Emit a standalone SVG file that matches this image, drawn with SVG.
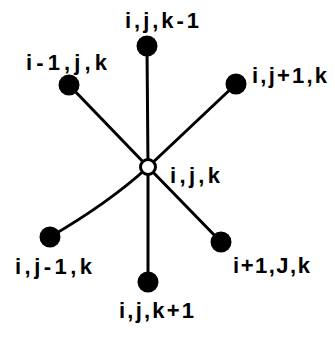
<svg xmlns="http://www.w3.org/2000/svg" width="335" height="339" viewBox="0 0 335 339">
<style>
.e{stroke:#000;stroke-width:3;fill:none;stroke-linecap:round}
.n{fill:#000}
.c{fill:#fff;stroke:#000;stroke-width:3}
text{font-family:"Liberation Sans",Arial,sans-serif;font-weight:bold;font-size:22px;fill:#000}
</style>
<rect width="335" height="339" fill="#fff"/>
<g id="connectors">
<path class="e" d="M148,167 L147,47"/>
<path class="e" d="M148,167 L69,85"/>
<path class="e" d="M148,167 L236,84"/>
<path class="e" d="M148,167 Q110,202 50,237"/>
<path class="e" d="M148,167 L221,242"/>
<path class="e" d="M148,167 L148,282"/>
</g>
<g id="n-top"><circle class="n" cx="147" cy="46" r="10.5"/><text x="125" y="28" textLength="74" lengthAdjust="spacing">i,j,k-1</text></g>
<g id="n-ul"><circle class="n" cx="69" cy="85" r="10.5"/><text x="26" y="70" textLength="81" lengthAdjust="spacing">i-1,j,k</text></g>
<g id="n-ur"><circle class="n" cx="236" cy="84" r="10.5"/><text x="252" y="83" textLength="75" lengthAdjust="spacing">i,j+1,k</text></g>
<g id="n-center"><circle class="c" cx="148" cy="167" r="7.5"/><text x="170" y="183" textLength="50" lengthAdjust="spacing">i,j,k</text></g>
<g id="n-ll"><circle class="n" cx="50" cy="237" r="10.5"/><text x="15" y="274" textLength="77" lengthAdjust="spacing">i,j-1,k</text></g>
<g id="n-lr"><circle class="n" cx="221" cy="242" r="10.5"/><text x="233" y="273" textLength="77" lengthAdjust="spacing">i+1,J,k</text></g>
<g id="n-bot"><circle class="n" cx="148" cy="282" r="10.5"/><text x="119" y="318" textLength="75" lengthAdjust="spacing">i,j,k+1</text></g>
</svg>
